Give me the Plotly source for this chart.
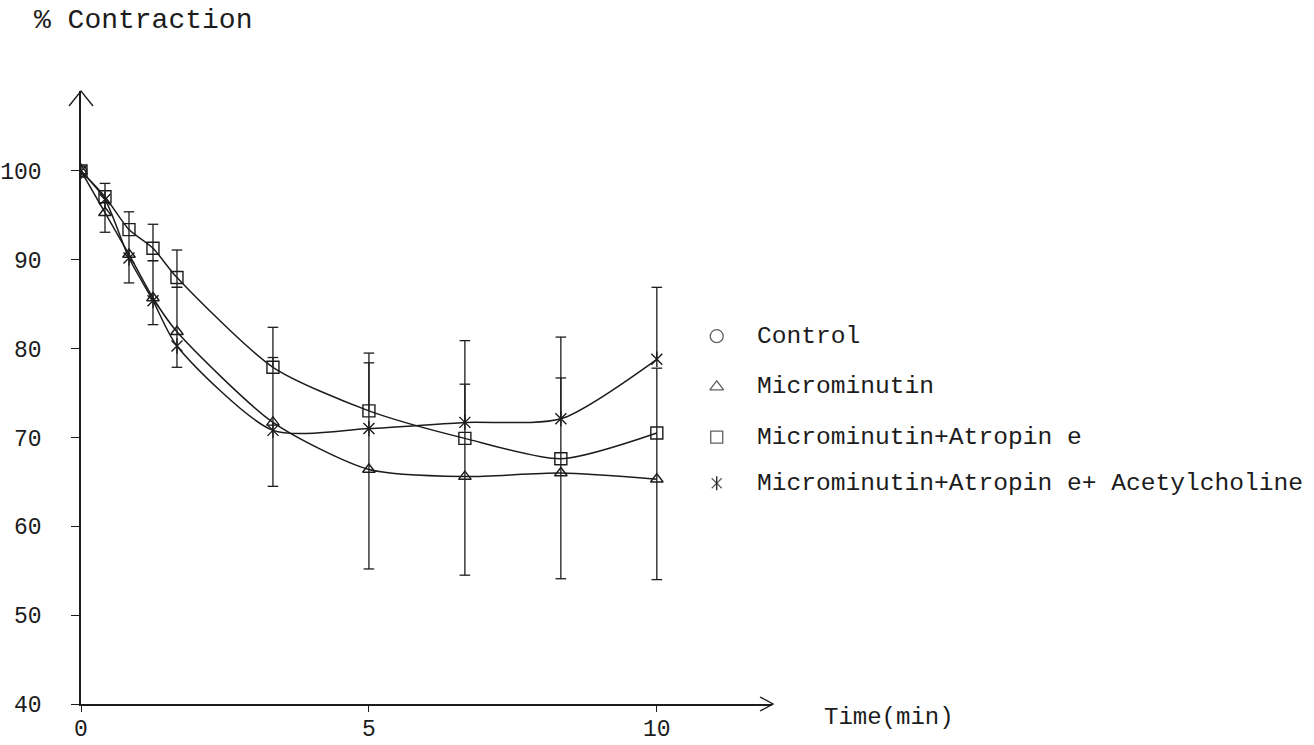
import plotly.graph_objects as go

# Sampling times (seconds) and mean % contraction for each treatment
time_s = [0, 25, 50, 75, 100, 200, 300, 400, 500, 600]
control_time_s = [0]
control = [100]
microminutin = [100, 95.3, 90.6, 85.7, 81.9, 71.7, 66.4, 65.6, 66.0, 65.3]
atropine = [100, 97.1, 93.4, 91.3, 88.0, 77.9, 73.0, 69.9, 67.6, 70.5]
acetylcholine = [100, 96.8, 90.2, 85.4, 80.3, 70.8, 71.0, 71.7, 72.1, 78.8]

# Error bar extents above / below each mean (None = no bar drawn)
microminutin_up = [None, None, None, 4.2, 5.0, 7.3, 12.0, 10.4, 10.7, 12.5]
microminutin_down = [None, None, None, 3.0, 4.0, 7.2, 11.2, 11.1, 11.9, 11.3]
atropine_up = [None, 1.5, 2.0, 2.7, 3.1, 4.5, 6.5, None, None, None]
atropine_down = [None, 4.0, 6.0, 1.4, 1.1, None, None, None, None, None]
acetylcholine_up = [None, None, None, None, None, None, None, 9.2, 9.2, 8.1]
acetylcholine_down = [None] * 10

series_names = ["Control", "Microminutin", "Microminutin+Atropin e",
                "Microminutin+Atropin e+ Acetylcholine"]
y_ticks = [40, 50, 60, 70, 80, 90, 100]
x_ticks = [0, 5, 10]

INK = "#1c1c1c"
FONT = "Liberation Mono, Courier New, monospace"
CAP = 0.092  # half width of error bar caps, minutes

t_min = [t / 60 for t in time_s]
ctrl_min = [t / 60 for t in control_time_s]


def error_path(x, y, up, down):
    xs, ys = [], []
    for xi, yi, u, d in zip(x, y, up, down):
        if u is None and d is None:
            continue
        top = yi + (u or 0)
        bot = yi - (d or 0)
        xs += [xi, xi, None]
        ys += [bot, top, None]
        if u is not None:
            xs += [xi - CAP, xi + CAP, None]
            ys += [top, top, None]
        if d is not None:
            xs += [xi - CAP, xi + CAP, None]
            ys += [bot, bot, None]
    return xs, ys


fig = go.Figure()

for vals, up, down in [(microminutin, microminutin_up, microminutin_down),
                       (atropine, atropine_up, atropine_down),
                       (acetylcholine, acetylcholine_up, acetylcholine_down)]:
    ex, ey = error_path(t_min, vals, up, down)
    fig.add_trace(go.Scatter(x=ex, y=ey, mode="lines", showlegend=False,
                             hoverinfo="skip",
                             line=dict(color=INK, width=1.3)))

line_style = dict(color=INK, width=1.5, shape="spline", smoothing=0.7)
mk_line = dict(color=INK, width=1.4)

fig.add_trace(go.Scatter(x=t_min, y=microminutin, mode="lines+markers",
                         name=series_names[1], showlegend=False, line=line_style,
                         marker=dict(symbol="triangle-up-open", size=11, line=mk_line, color=INK)))
fig.add_trace(go.Scatter(x=t_min, y=atropine, mode="lines+markers",
                         name=series_names[2], showlegend=False, line=line_style,
                         marker=dict(symbol="square-open", size=12, line=mk_line, color=INK)))
fig.add_trace(go.Scatter(x=t_min, y=acetylcholine, mode="lines+markers",
                         name=series_names[3], showlegend=False, line=line_style,
                         marker=dict(symbol="x-thin-open", size=11, line=mk_line, color=INK)))
fig.add_trace(go.Scatter(x=t_min, y=acetylcholine, mode="markers", showlegend=False,
                         hoverinfo="skip",
                         marker=dict(symbol="line-ns-open", size=11, line=mk_line, color=INK)))
fig.add_trace(go.Scatter(x=ctrl_min, y=control, mode="markers",
                         name=series_names[0], showlegend=False,
                         marker=dict(symbol="circle-open", size=11, line=mk_line, color=INK)))

# Key drawn beside the curves
key_x = 11.04
key_text_x = 11.70
key_rows = [81.4, 75.7, 70.05, 64.85]
key_symbols = ["circle-open", "triangle-up-open", "square-open", "x-thin-open"]
key_sizes = [13, 12, 12, 10]
fig.add_trace(go.Scatter(x=[key_x] * 4, y=key_rows, mode="markers", showlegend=False,
                         hoverinfo="skip", cliponaxis=False,
                         marker=dict(symbol=key_symbols, size=key_sizes,
                                     line=dict(color=INK, width=1.3), color=INK)))
fig.add_trace(go.Scatter(x=[key_x], y=[key_rows[3]], mode="markers", showlegend=False,
                         hoverinfo="skip", cliponaxis=False,
                         marker=dict(symbol="line-ns-open", size=10,
                                     line=dict(color=INK, width=1.3), color=INK)))
for name, yk in zip(series_names, key_rows):
    fig.add_annotation(x=key_text_x, y=yk, xref="x", yref="y", text=name,
                       showarrow=False, xanchor="left", yanchor="middle",
                       font=dict(family=FONT, size=24.6, color=INK))

# Axis titles
fig.add_annotation(x=-0.0705, y=1.1158, xref="paper", yref="paper", text="% Contraction",
                   showarrow=False, xanchor="left", yanchor="middle",
                   font=dict(family=FONT, size=28, color=INK))
fig.add_annotation(x=1.0723, y=-0.0228, xref="paper", yref="paper", text="Time(min)",
                   showarrow=False, xanchor="left", yanchor="middle",
                   font=dict(family=FONT, size=24, color=INK))

# Open arrow heads at the ends of both axes
fig.add_shape(type="path", xref="paper", yref="paper", xsizemode="pixel", ysizemode="pixel",
              xanchor=0, yanchor=1, path="M -12,-15 L 0,0 L 12,-15",
              line=dict(color=INK, width=1.4))
fig.add_shape(type="path", xref="paper", yref="paper", xsizemode="pixel", ysizemode="pixel",
              xanchor=1, yanchor=0, path="M -12,7 L 1,0 L -12,-7",
              line=dict(color=INK, width=1.4))

axis_common = dict(showgrid=False, zeroline=False, showline=True, linecolor=INK,
                   linewidth=1.5, ticks="outside", tickcolor=INK, tickwidth=1.4,
                   automargin=False,
                   tickfont=dict(family=FONT, size=23, color=INK))

fig.update_xaxes(range=[0, 12], tickvals=x_ticks, ticklen=6,
                 ticklabelstandoff=-3, **axis_common)
fig.update_yaxes(range=[40, 109], tickvals=y_ticks, ticklen=8,
                 ticklabelstandoff=25, **axis_common)

fig.update_layout(width=1314, height=745,
                  margin=dict(l=81, r=542.4, t=91, b=41),
                  paper_bgcolor="white", plot_bgcolor="white",
                  showlegend=False)

fig.write_html("out.html")
